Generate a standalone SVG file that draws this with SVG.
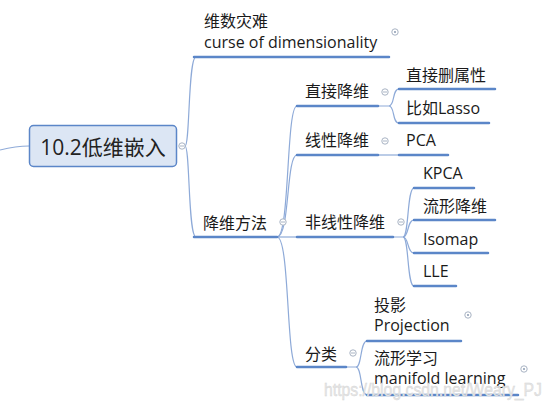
<svg xmlns="http://www.w3.org/2000/svg" width="552" height="408" viewBox="0 0 552 408">
<style>
text{font-family:"Open Sans","Noto Sans CJK SC",sans-serif;font-size:16px;fill:#1a1a1a}
.root{font-size:21px;fill:#222}
.ul{stroke:#5b86c8;stroke-width:2.5;fill:none;stroke-linecap:round}
.cn{stroke:#8eaad8;stroke-width:1.2;fill:none}
.col{fill:#fff;stroke:#a9b4c4;stroke-width:1}
.bar{stroke:#a9b4c4;stroke-width:1}
.wm{font-family:"Liberation Sans",sans-serif;font-size:18px;fill:#e6e6e6;stroke:#d4d4d4;stroke-width:0.4}
</style>
<rect width="552" height="408" fill="#fff"/>
<g id="connectors">
<path class="cn" d="M0,150 C12,147 18,146 29,146"/>
<path class="cn" d="M185,146 C190,146 188,57 196,57"/>
<path class="cn" d="M185,146 C190,146 188,237 196,237"/>
<path class="cn" d="M277,237 C290,237 286,106 297,106"/>
<path class="cn" d="M277,237 C290,237 286,155 297,155"/>
<path class="cn" d="M277,237 L297,237"/>
<path class="cn" d="M277,237 C290,237 286,367 297,367"/>
<path class="cn" d="M378,106 L389,106 C395,106 392,89 399,89"/>
<path class="cn" d="M389,106 C395,106 392,123 399,123"/>
<path class="cn" d="M378,155 L399,155"/>
<path class="cn" d="M393,237 L403,237 C409,237 407,188 414,188"/>
<path class="cn" d="M403,237 C409,237 407,220 414,220"/>
<path class="cn" d="M403,237 C409,237 407,253 414,253"/>
<path class="cn" d="M403,237 C409,237 407,286 414,286"/>
<path class="cn" d="M346,367 L356,367 C362,367 360,341 367,341"/>
<path class="cn" d="M356,367 C362,367 360,395 367,395"/>
</g>
<g id="root">
<rect x="29.5" y="125.5" width="147" height="41" rx="4" fill="#dce6f4" stroke="#5b86c8" stroke-width="1.5"/>
<text class="root" x="103" y="155" text-anchor="middle">10.2低维嵌入</text>
<circle class="col" cx="182" cy="146" r="3.2"/><line class="bar" x1="180" y1="146" x2="184" y2="146"/>
</g>
<g id="n-curse">
<text x="204" y="27">维数灾难</text>
<text x="204" y="48">curse of dimensionality</text>
<line class="ul" x1="194" y1="57" x2="389" y2="57"/>
<circle class="col" cx="395" cy="32" r="3.2"/><circle cx="395" cy="32" r="1" fill="#8a9ab0"/>
</g>
<g id="n-methods">
<text x="203" y="229">降维方法</text>
<line class="ul" x1="194" y1="237" x2="277" y2="237"/>
<circle class="col" cx="283" cy="222" r="3.2"/><line class="bar" x1="281" y1="222" x2="285" y2="222"/>
</g>
<g id="n-direct">
<text x="305" y="97">直接降维</text>
<line class="ul" x1="297" y1="106" x2="378" y2="106"/>
<circle class="col" cx="385" cy="92" r="3.2"/><line class="bar" x1="383" y1="92" x2="387" y2="92"/>
</g>
<g id="n-delattr">
<text x="406" y="81">直接删属性</text>
<line class="ul" x1="399" y1="89" x2="495" y2="89"/>
</g>
<g id="n-lasso">
<text x="406" y="114">比如Lasso</text>
<line class="ul" x1="399" y1="123" x2="489" y2="123"/>
</g>
<g id="n-linear">
<text x="305" y="146">线性降维</text>
<line class="ul" x1="297" y1="155" x2="378" y2="155"/>
<circle class="col" cx="385" cy="141" r="3.2"/><line class="bar" x1="383" y1="141" x2="387" y2="141"/>
</g>
<g id="n-pca">
<text x="406" y="146">PCA</text>
<line class="ul" x1="399" y1="155" x2="448" y2="155"/>
</g>
<g id="n-nonlinear">
<text x="305" y="228">非线性降维</text>
<line class="ul" x1="297" y1="237" x2="393" y2="237"/>
<circle class="col" cx="401" cy="222" r="3.2"/><line class="bar" x1="399" y1="222" x2="403" y2="222"/>
</g>
<g id="n-kpca">
<text x="423" y="179">KPCA</text>
<line class="ul" x1="414" y1="188" x2="474" y2="188"/>
</g>
<g id="n-manifold-dr">
<text x="423" y="212">流形降维</text>
<line class="ul" x1="414" y1="220" x2="495" y2="220"/>
</g>
<g id="n-isomap">
<text x="423" y="245">Isomap</text>
<line class="ul" x1="414" y1="253" x2="488" y2="253"/>
</g>
<g id="n-lle">
<text x="423" y="277">LLE</text>
<line class="ul" x1="414" y1="286" x2="456" y2="286"/>
</g>
<g id="n-class">
<text x="305" y="360">分类</text>
<line class="ul" x1="297" y1="367" x2="346" y2="367"/>
<circle class="col" cx="353" cy="353" r="3.2"/><line class="bar" x1="351" y1="353" x2="355" y2="353"/>
</g>
<g id="n-projection">
<text x="374" y="311">投影</text>
<text x="374" y="331">Projection</text>
<line class="ul" x1="367" y1="341" x2="461" y2="341"/>
<circle class="col" cx="468" cy="315" r="3.2"/><circle cx="468" cy="315" r="1" fill="#8a9ab0"/>
</g>
<g id="n-manifold-learning">
<text x="374" y="364">流形学习</text>
<text x="374" y="384">manifold learning</text>
<line class="ul" x1="367" y1="395" x2="518" y2="395"/>
<circle class="col" cx="524" cy="369" r="3.2"/><circle cx="524" cy="369" r="1" fill="#8a9ab0"/>
</g>
<text class="wm" x="324" y="396" textLength="218" lengthAdjust="spacingAndGlyphs">https://blog.csdn.net/Weary_PJ</text>
</svg>
